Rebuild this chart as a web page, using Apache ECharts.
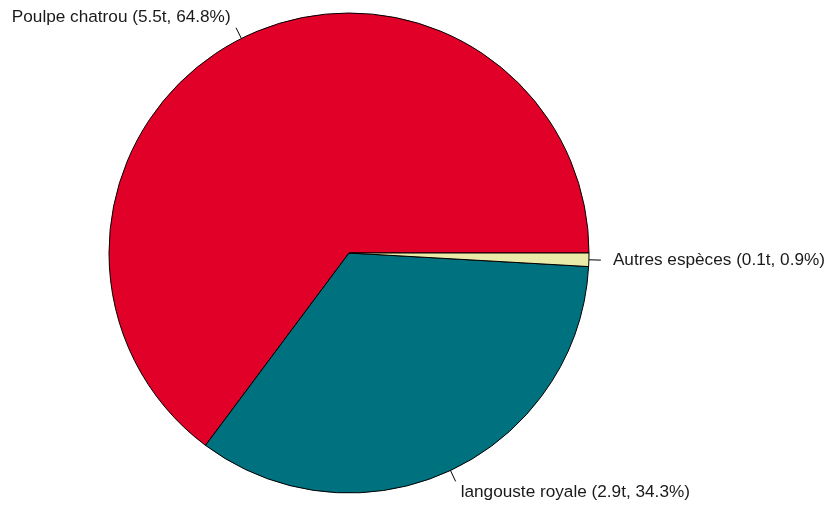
<!DOCTYPE html>
<html>
<head>
<meta charset="utf-8">
<script src="https://cdn.jsdelivr.net/npm/echarts@6/dist/echarts.min.js"></script>
<style>
html,body{margin:0;padding:0;background:#fff;}
#chart{width:830px;height:506px;}
</style>
</head>
<body>
<div id="chart"></div>
<script>
const species = ['Poulpe chatrou', 'langouste royale', 'Autres espèces'];
const tonnes = [5.5, 2.9, 0.1];
const percents = [64.8, 34.3, 0.9];
const colors = ['#E10028', '#00717E', '#EAEBA9'];

const R = 240;          // pie radius (px)
const LINE = R * 0.05;  // tick from r to 1.05r
const GAP = R * 0.05;   // label anchored at 1.1r
const FONT = 17.2;
const LH = 20;

const total = percents.reduce((a, b) => a + b, 0);
let cum = 0;
const data = species.map((name, i) => {
  const mid = (cum + percents[i] / 2) / total * 2 * Math.PI; // counter-clockwise from 3 o'clock
  cum += percents[i];
  const dy = -Math.sin(mid) * GAP;   // screen offset of label centre beyond tick end
  const dx = Math.abs(Math.cos(mid)) * GAP;
  return {
    name: name,
    value: percents[i],
    tonnes: tonnes[i],
    shift: dy,
    itemStyle: { color: colors[i] },
    label: {
      distanceToLabelLine: dx,
      rich: {
        t: { fontSize: FONT, lineHeight: LH, color: '#1a1a1a', fontFamily: 'Liberation Sans, Arial, sans-serif' },
        g: { fontSize: 1, lineHeight: Math.max(1, 2 * Math.abs(dy)) }
      }
    }
  };
});
const labelText = p => {
  const t = '{t|' + p.name + ' (' + p.data.tonnes + 't, ' + p.data.value + '%)}';
  const s = p.data.shift;
  if (Math.abs(s) < 1) return t;
  return s < 0 ? t + '\n{g| }' : '{g| }\n' + t;
};

const chart = echarts.init(document.getElementById('chart'), null, { renderer: 'canvas' });
chart.setOption({
  animation: false,
  backgroundColor: '#ffffff',
  series: [
    {
      type: 'pie',
      center: [349, 253],
      radius: R,
      startAngle: 0,
      clockwise: false,
      avoidLabelOverlap: false,
      silent: true,
      data: data,
      itemStyle: { borderColor: '#000', borderWidth: 1 },
      label: { show: true, position: 'outside', formatter: labelText, color: '#1a1a1a', fontSize: FONT, fontFamily: 'Liberation Sans, Arial, sans-serif' },
      labelLine: { show: true, length: LINE, length2: 0, smooth: false, lineStyle: { color: '#000', width: 1 } },
      emphasis: { disabled: true }
    }
  ]
});
</script>
</body>
</html>
